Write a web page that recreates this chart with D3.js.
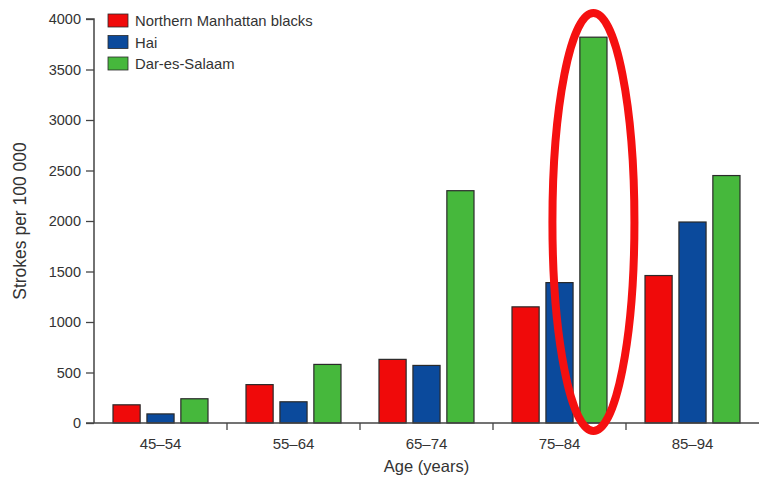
<!DOCTYPE html>
<html>
<head>
<meta charset="utf-8">
<script src="https://cdn.jsdelivr.net/npm/d3@7"></script>
<style>
  html, body { margin: 0; padding: 0; background: #fff; }
  svg text { font-family: "Liberation Sans", Arial, sans-serif; fill: #333; }
</style>
</head>
<body>
<svg id="chart" width="759" height="478"></svg>
<script>
// Stroke incidence per 100 000 by age band
const ageGroups = ["45–54", "55–64", "65–74", "75–84", "85–94"];
const seriesNames = ["Northern Manhattan blacks", "Hai", "Dar-es-Salaam"];
const northernManhattan = [180, 380, 630, 1150, 1460];
const hai = [90, 210, 570, 1390, 1990];
const darEsSalaam = [240, 580, 2300, 3820, 2450];
const yTicks = [0, 500, 1000, 1500, 2000, 2500, 3000, 3500, 4000];
const colors = ["#f00a0a", "#0b4a9c", "#46b83c"];

const series = [northernManhattan, hai, darEsSalaam];

const svg = d3.select("#chart");
const left = 94;

const x = d3.scaleBand().domain(ageGroups).range([left, 759]).paddingInner(0).paddingOuter(0);
const y = d3.scaleLinear().domain([0, 4000]).range([423, 19]);

const inner = d3.scaleBand().domain(d3.range(series.length))
  .range([0, x.bandwidth()]).paddingInner(0.2).paddingOuter(0.56);

// Bars
const groups = svg.append("g").selectAll("g").data(ageGroups).join("g")
  .attr("transform", d => `translate(${x(d)},0)`);

groups.selectAll("rect")
  .data((d, i) => series.map((s, k) => ({ k, v: s[i] })))
  .join("rect")
  .attr("x", d => inner(d.k))
  .attr("width", inner.bandwidth())
  .attr("y", d => y(d.v))
  .attr("height", d => y(0) - y(d.v))
  .attr("fill", d => colors[d.k])
  .attr("stroke", "#2a2a2a")
  .attr("stroke-width", 1.2);

// Y axis
const yAxis = d3.axisLeft(y).tickValues(yTicks).tickSize(8).tickPadding(5).tickFormat(d3.format("d"));
const yg = svg.append("g").attr("transform", `translate(${left},0)`).call(yAxis);
yg.select(".domain").attr("stroke", "#444").attr("stroke-width", 1.5).attr("d", `M-8,${y(4000)}H0V${y(0)}`);
yg.selectAll(".tick line").attr("stroke", "#444").attr("stroke-width", 1.3);
yg.selectAll(".tick text").attr("font-size", 14.5).style("fill", "#333");

// X axis: ticks at band boundaries
const xg = svg.append("g").attr("transform", `translate(0,${y(0)})`);
xg.append("line").attr("x1", left - 8).attr("x2", 759).attr("y1", 0).attr("y2", 0)
  .attr("stroke", "#444").attr("stroke-width", 1.5);
xg.selectAll("line.bt").data(ageGroups.slice(1)).join("line").attr("class", "bt")
  .attr("x1", d => x(d)).attr("x2", d => x(d)).attr("y1", 0).attr("y2", 7)
  .attr("stroke", "#444").attr("stroke-width", 1.3);
xg.selectAll("text").data(ageGroups).join("text")
  .attr("x", d => x(d) + x.bandwidth() / 2).attr("y", 26)
  .attr("text-anchor", "middle").attr("font-size", 15).text(d => d);

// Axis titles
svg.append("text").attr("x", (left + 759) / 2).attr("y", 472)
  .attr("text-anchor", "middle").attr("font-size", 16.5).text("Age (years)");
svg.append("text").attr("transform", `translate(26,${(y(0) + y(4000)) / 2}) rotate(-90)`)
  .attr("text-anchor", "middle").attr("font-size", 17.5).text("Strokes per 100 000");

// Legend
const legend = svg.append("g").attr("transform", "translate(108,14)");
seriesNames.forEach((name, i) => {
  const g = legend.append("g").attr("transform", `translate(0,${i * 21.5})`);
  g.append("rect").attr("width", 20).attr("height", 13).attr("fill", colors[i])
    .attr("stroke", "#2a2a2a").attr("stroke-width", 0.8);
  g.append("text").attr("x", 27).attr("y", 12).attr("font-size", 14.8).text(name);
});

// Highlight around the 75–84 Dar-es-Salaam bar
const hx = x("75–84") + inner(2) + inner.bandwidth() / 2;
svg.append("ellipse").attr("cx", hx).attr("cy", (y(4000) + y(0)) / 2 + 1)
  .attr("rx", 41).attr("ry", 209)
  .attr("fill", "none").attr("stroke", "#f51010").attr("stroke-width", 8);
</script>
</body>
</html>
